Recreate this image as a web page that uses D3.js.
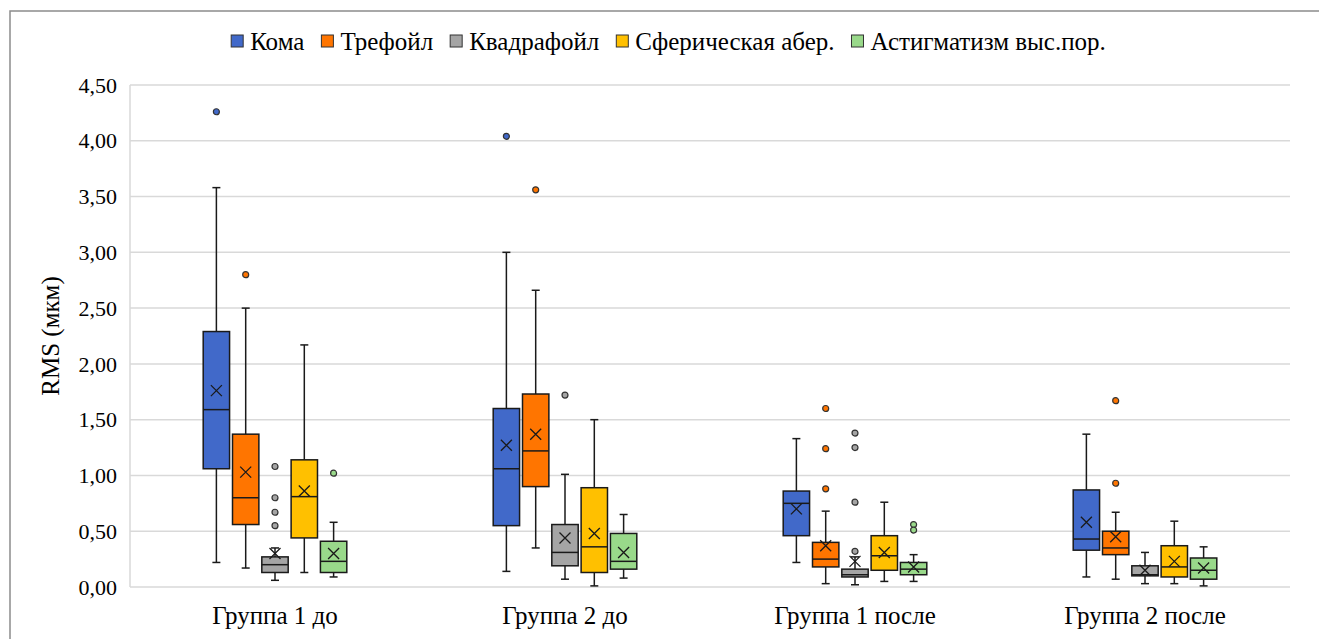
<html><head><meta charset="UTF-8">
<style>
    body { margin: 0; }
</style>
</head>
<body>
<script src="https://d3js.org/d3.v7.min.js"></script>
<script>
    // groups and series
    const categories = ["Группа 1 до", "Группа 2 до", "Группа 1 после", "Группа 2 после"];
    const series = ["Кома", "Трефойл", "Квадрафойл", "Сферическая абер.", "Астигматизм выс.пор."];
    const colors = ["#4169c9", "#ff7500", "#a5a5a5", "#ffc000", "#99d98a"];

    // statistics, one row per series, one value per group
    const whiskLo = [
        [0.22, 0.14, 0.22, 0.09],
        [0.17, 0.35, 0.03, 0.07],
        [0.06, 0.07, 0.02, 0.03],
        [0.13, 0.01, 0.05, 0.03],
        [0.09, 0.08, 0.05, 0.01]
    ];
    const q1 = [
        [1.06, 0.55, 0.46, 0.33],
        [0.56, 0.90, 0.18, 0.29],
        [0.13, 0.19, 0.09, 0.10],
        [0.44, 0.13, 0.15, 0.09],
        [0.13, 0.16, 0.11, 0.07]
    ];
    const median = [
        [1.59, 1.06, 0.75, 0.43],
        [0.80, 1.22, 0.25, 0.35],
        [0.20, 0.31, 0.11, 0.11],
        [0.81, 0.36, 0.28, 0.18],
        [0.23, 0.23, 0.16, 0.15]
    ];
    const q3 = [
        [2.29, 1.60, 0.86, 0.87],
        [1.37, 1.73, 0.40, 0.50],
        [0.27, 0.56, 0.16, 0.19],
        [1.14, 0.89, 0.46, 0.37],
        [0.41, 0.48, 0.22, 0.26]
    ];
    const whiskHi = [
        [3.58, 3.00, 1.33, 1.37],
        [2.50, 2.66, 0.68, 0.67],
        [0.35, 1.01, 0.27, 0.31],
        [2.17, 1.50, 0.76, 0.59],
        [0.58, 0.65, 0.29, 0.36]
    ];
    const means = [
        [1.76, 1.27, 0.70, 0.58],
        [1.03, 1.37, 0.37, 0.45],
        [0.30, 0.44, 0.23, 0.15],
        [0.86, 0.48, 0.31, 0.23],
        [0.30, 0.31, 0.18, 0.17]
    ];
    const outliers = [
        [[4.26], [4.04], [], []],
        [[2.80], [3.56], [1.60, 1.24, 0.88], [1.67, 0.93]],
        [[1.08, 0.80, 0.67, 0.55], [1.72], [1.38, 1.25, 0.76, 0.32], []],
        [[], [], [], []],
        [[1.02], [], [0.56, 0.51], []]
    ];
    const yTicks = [0, 0.5, 1, 1.5, 2, 2.5, 3, 3.5, 4, 4.5];

    const width = 1319, height = 639;
    const margin = {top: 85, right: 29, bottom: 52, left: 130};
    const fam = "'Liberation Serif', 'Noto Serif', 'DejaVu Serif', serif";

    const svg = d3.select("body")
        .append("svg")
        .attr("width", width)
        .attr("height", height)
        .attr("font-family", fam)
        .style("display", "block");

    // outer frame
    svg.append("rect")
        .attr("x", 10).attr("y", 11)
        .attr("width", width + 20).attr("height", height)
        .attr("fill", "none")
        .attr("stroke", "#8c8c8c")
        .attr("stroke-width", 1.5);

    const x = d3.scaleBand()
        .domain(categories)
        .range([margin.left, width - margin.right]);

    const xs = d3.scaleBand()
        .domain(series)
        .range([-71.8, 71.8])
        .paddingInner(0.1);

    const y = d3.scaleLinear()
        .domain([0, 4.5])
        .range([height - margin.bottom, margin.top]);

    const ruFormat = d3.formatLocale({decimal: ",", thousands: " ", grouping: [3], currency: ["", ""]}).format(".2f");

    // grid
    svg.append("g")
        .selectAll("line")
        .data(yTicks)
        .join("line")
        .attr("x1", margin.left).attr("x2", width - margin.right)
        .attr("y1", d => y(d)).attr("y2", d => y(d))
        .attr("stroke", "#d9d9d9")
        .attr("stroke-width", 1.5);

    svg.append("line")
        .attr("x1", margin.left).attr("x2", margin.left)
        .attr("y1", y(4.5)).attr("y2", y(0))
        .attr("stroke", "#d9d9d9")
        .attr("stroke-width", 1.5);

    // y tick labels
    svg.append("g")
        .selectAll("text")
        .data(yTicks)
        .join("text")
        .attr("x", margin.left - 13)
        .attr("y", d => y(d))
        .attr("dy", "0.35em")
        .attr("text-anchor", "end")
        .attr("font-family", fam)
        .style("font-family", fam)
        .style("font-size", "22px")
        .text(ruFormat);

    svg.append("text")
        .attr("transform", `translate(50,${(y(0) + y(4.5)) / 2}) rotate(-90)`)
        .attr("text-anchor", "middle")
        .attr("dy", "0.35em")
        .attr("font-family", fam)
        .style("font-family", fam)
        .style("font-size", "25px")
        .text("RMS (мкм)");

    // x labels
    svg.append("g")
        .selectAll("text")
        .data(categories)
        .join("text")
        .attr("x", d => x(d) + x.bandwidth() / 2)
        .attr("y", y(0) + 37)
        .attr("text-anchor", "middle")
        .attr("font-family", fam)
        .style("font-family", fam)
        .style("font-size", "25px")
        .text(d => d);

    // boxes
    const boxes = [];
    series.forEach((s, i) => {
        categories.forEach((c, j) => {
            boxes.push({
                s, c, i, j,
                lo: whiskLo[i][j], q1: q1[i][j], med: median[i][j],
                q3: q3[i][j], hi: whiskHi[i][j], mean: means[i][j],
                out: outliers[i][j]
            });
        });
    });

    const bw = xs.bandwidth();
    const cap = 8;

    const g = svg.append("g")
        .selectAll("g")
        .data(boxes)
        .join("g")
        .attr("transform", d => `translate(${x(d.c) + x.bandwidth() / 2 + xs(d.s) + bw / 2},0)`);

    g.append("line")
        .attr("y1", d => y(d.hi)).attr("y2", d => y(d.q3))
        .attr("stroke", "#1a1a1a").attr("stroke-width", 1.5);
    g.append("line")
        .attr("y1", d => y(d.q1)).attr("y2", d => y(d.lo))
        .attr("stroke", "#1a1a1a").attr("stroke-width", 1.5);
    g.append("line")
        .attr("x1", -cap / 2).attr("x2", cap / 2)
        .attr("y1", d => y(d.hi)).attr("y2", d => y(d.hi))
        .attr("stroke", "#1a1a1a").attr("stroke-width", 1.5);
    g.append("line")
        .attr("x1", -cap / 2).attr("x2", cap / 2)
        .attr("y1", d => y(d.lo)).attr("y2", d => y(d.lo))
        .attr("stroke", "#1a1a1a").attr("stroke-width", 1.5);

    g.append("rect")
        .attr("x", -bw / 2)
        .attr("width", bw)
        .attr("y", d => y(d.q3))
        .attr("height", d => y(d.q1) - y(d.q3))
        .attr("fill", d => colors[d.i])
        .attr("stroke", "#1a1a1a")
        .attr("stroke-width", 1.5);

    g.append("line")
        .attr("x1", -bw / 2).attr("x2", bw / 2)
        .attr("y1", d => y(d.med)).attr("y2", d => y(d.med))
        .attr("stroke", "#1a1a1a").attr("stroke-width", 1.5);

    // mean marker
    const m = 5.5;
    g.append("path")
        .attr("d", d => `M${-m},${y(d.mean) - m}L${m},${y(d.mean) + m}M${-m},${y(d.mean) + m}L${m},${y(d.mean) - m}`)
        .attr("stroke", "#1a1a1a")
        .attr("stroke-width", 1.3)
        .attr("fill", "none");

    // outliers
    g.selectAll("circle")
        .data(d => d.out.map(v => ({v, i: d.i})))
        .join("circle")
        .attr("cy", d => y(d.v))
        .attr("r", 3)
        .attr("fill", d => colors[d.i])
        .attr("stroke", "#333")
        .attr("stroke-width", 1.2);

    // legend, laid out by measured text width and centred
    const legend = svg.append("g");
    let lx = 0;
    series.forEach((s, i) => {
        const item = legend.append("g").attr("transform", `translate(${lx},41)`);
        item.append("rect")
            .attr("x", 0).attr("y", -6)
            .attr("width", 12).attr("height", 12)
            .attr("fill", colors[i])
            .attr("stroke", "#333")
            .attr("stroke-width", 1);
        const t = item.append("text")
            .attr("x", 19)
            .attr("dy", "0.35em")
            .attr("font-family", fam)
            .style("font-family", fam)
            .style("font-size", "25px")
            .text(s);
        lx += 19 + t.node().getComputedTextLength() + 17;
    });
    legend.attr("transform", `translate(${668.5 - (lx - 17) / 2},0)`);
</script>
</body>
</html>
